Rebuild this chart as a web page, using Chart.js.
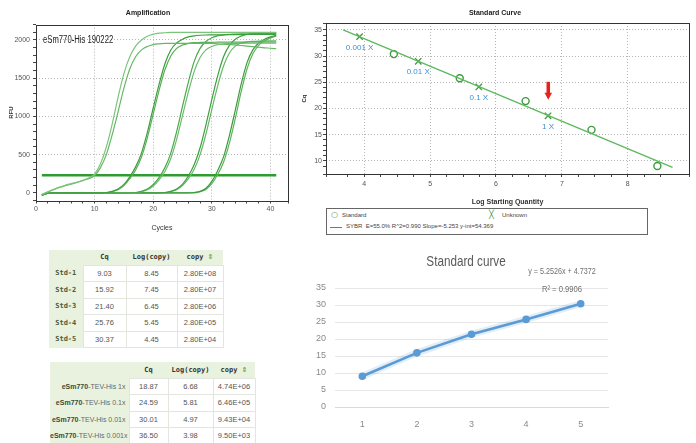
<!DOCTYPE html>
<html>
<head>
<meta charset="utf-8">
<script src="https://cdn.jsdelivr.net/npm/chart.js@4.4.1/dist/chart.umd.min.js"></script>
<style>
  html, body { margin: 0; padding: 0; background: #fff; }
  body { width: 696px; height: 443px; position: relative; overflow: hidden; font-family: "Liberation Sans", Arial, sans-serif; }
  canvas { position: absolute; }
  #ampChart { left: 0; top: 0; }
  #stdChart { left: 292px; top: 0; }
  #excelChart { left: 300px; top: 245px; }

  /* 표준곡선 범례 박스 */
  #stdLegend { position: absolute; left: 326px; top: 208px; width: 320px; height: 25px; border: 1px solid #666;
               font-family: "Liberation Sans", sans-serif; font-size: 6px; color: #444; }
  #stdLegend span { position: absolute; white-space: nowrap; }
  #stdLegend .mk { color: #3d9a3d; font-family: "DejaVu Sans", sans-serif; font-size: 8px; }
  #stdLegend .ln { position: absolute; left: 3px; top: 18px; width: 12px; height: 0; border-top: 1px solid #3d9a3d; }

  /* 결과 표 */
  table.qtab { position: absolute; border-collapse: collapse; table-layout: fixed; background: #fff;
               font-family: "Liberation Sans", sans-serif; font-size: 7.5px; color: #555; }
  table.qtab th, table.qtab td { padding: 0; text-align: center; overflow: hidden; white-space: nowrap; }
  table.qtab thead th { background: #e9f2de; color: #333; font-family: "DejaVu Sans Mono", monospace; font-weight: bold; font-size: 7px; }
  table.qtab tbody th { background: #e9f2de; color: #4c5a40; font-family: "DejaVu Sans Mono", monospace; font-weight: bold; font-size: 7px; }
  table.qtab tbody td { border: 1px solid #e3e6df; }
  table.qtab .sort { color: #6aa84f; font-family: "DejaVu Sans", sans-serif; font-size: 7px; }
  #stdTable { left: 49px; top: 250px; width: 174px; }
  #stdTable thead tr { height: 15px; }
  #stdTable tbody tr { height: 16.5px; }
  #unkTable { left: 50px; top: 362px; width: 205px; }
  #unkTable thead tr { height: 16px; }
  #unkTable tbody tr { height: 16.5px; }
  #unkTable tbody th { text-align: right; padding-right: 3px; font-family: "Liberation Sans", sans-serif; font-size: 7px; color: #666; font-weight: normal; }
  #unkTable tbody th b { color: #3f4a36; }
</style>
</head>
<body>
<canvas id="ampChart" width="292" height="232"></canvas>
<canvas id="stdChart" width="404" height="206"></canvas>
<div id="stdLegend">
  <span class="mk" style="left:4px; top:1px;">○</span><span style="left:15px; top:3px;">Standard</span>
  <span class="mk" style="left:162px; top:1px;">╳</span><span style="left:175px; top:3px;">Unknown</span>
  <div class="ln"></div><span style="left:19px; top:14px;">SYBR &nbsp;E=55.0% R^2=0.990 Slope=-5.253 y-int=54.369</span>
</div>
<canvas id="excelChart" width="332" height="198"></canvas>

<table id="stdTable" class="qtab">
  <colgroup><col style="width:34px"><col style="width:43px"><col style="width:51px"><col style="width:46px"></colgroup>
  <thead><tr><th></th><th>Cq</th><th>Log(copy)</th><th>copy <span class="sort">⇕</span></th></tr></thead>
  <tbody></tbody>
</table>
<table id="unkTable" class="qtab">
  <colgroup><col style="width:79px"><col style="width:39px"><col style="width:45px"><col style="width:42px"></colgroup>
  <thead><tr><th></th><th>Cq</th><th>Log(copy)</th><th>copy <span class="sort">⇕</span></th></tr></thead>
  <tbody></tbody>
</table>

<script>
// ===== 증폭 곡선 데이터 (사이클별 RFU) =====
const ampCycles = [1, 2, 3, 4, 5, 6, 7, 8, 9, 10, 11, 12, 13, 14, 15, 16, 17, 18, 19, 20,
                   21, 22, 23, 24, 25, 26, 27, 28, 29, 30, 31, 32, 33, 34, 35, 36, 37, 38, 39, 40, 41];
const ampStd1a = [-20, 15, 45, 75, 100, 120, 140, 165, 195, 245,
                  380, 600, 900, 1250, 1560, 1780, 1920, 2000, 2050, 2075,
                  2090, 2095, 2100, 2100, 2100, 2100, 2100, 2100, 2100, 2100,
                  2100, 2100, 2100, 2100, 2100, 2100, 2100, 2100, 2100, 2100, 2100];
const ampStd1b = [-25, 10, 40, 70, 95, 115, 135, 160, 185, 225,
                  330, 500, 760, 1060, 1370, 1620, 1780, 1870, 1915, 1940,
                  1950, 1955, 1955, 1955, 1955, 1955, 1955, 1955, 1955, 1955,
                  1950, 1945, 1940, 1935, 1928, 1920, 1912, 1905, 1898, 1892, 1885];
const ampStd2a = [-30, -5, 0, 0, 0, 0, 0, 0, 0, 0,
                  0, 5, 20, 50, 110, 210, 340, 520, 790, 1110,
                  1420, 1690, 1870, 1960, 2010, 2040, 2055, 2062, 2065, 2066,
                  2067, 2068, 2069, 2070, 2071, 2072, 2072, 2073, 2074, 2074, 2075];
const ampStd2b = [-30, -5, 0, 0, 0, 0, 0, 0, 0, 0,
                  0, 0, 15, 40, 95, 185, 300, 470, 720, 1030,
                  1340, 1610, 1790, 1890, 1935, 1955, 1965, 1968, 1970, 1970,
                  1971, 1971, 1972, 1972, 1973, 1973, 1974, 1974, 1975, 1975, 1975];
const ampStd3a = [-30, -5, 0, 0, 0, 0, 0, 0, 0, 0,
                  0, 0, 0, 0, 0, 0, 5, 20, 50, 110,
                  200, 330, 520, 800, 1130, 1450, 1720, 1890, 1980, 2030,
                  2055, 2068, 2075, 2078, 2080, 2081, 2082, 2083, 2084, 2085, 2085];
const ampStd3b = [-30, -5, 0, 0, 0, 0, 0, 0, 0, 0,
                  0, 0, 0, 0, 0, 0, 0, 15, 40, 90,
                  170, 280, 450, 700, 1010, 1320, 1590, 1770, 1870, 1915,
                  1938, 1948, 1952, 1955, 1956, 1957, 1958, 1958, 1959, 1960, 1960];
const ampStd4a = [-30, -5, 0, 0, 0, 0, 0, 0, 0, 0,
                  0, 0, 0, 0, 0, 0, 0, 0, 0, 0,
                  0, 5, 20, 50, 115, 220, 370, 590, 890, 1220,
                  1530, 1780, 1930, 2010, 2050, 2072, 2083, 2090, 2093, 2095, 2095];
const ampStd4b = [-30, -5, 0, 0, 0, 0, 0, 0, 0, 0,
                  0, 0, 0, 0, 0, 0, 0, 0, 0, 0,
                  0, 0, 15, 40, 95, 185, 310, 500, 770, 1090,
                  1400, 1660, 1830, 1920, 1960, 1975, 1982, 1986, 1988, 1990, 1990];
const ampStd5a = [-30, -5, 0, 0, 0, 0, 0, 0, 0, 0,
                  0, 0, 0, 0, 0, 0, 0, 0, 0, 0,
                  0, 0, 0, 0, 0, 0, 5, 20, 60, 150,
                  290, 470, 750, 1080, 1420, 1700, 1870, 1960, 2010, 2040, 2060];
const ampStd5b = [-30, -5, 0, 0, 0, 0, 0, 0, 0, 0,
                  0, 0, 0, 0, 0, 0, 0, 0, 0, 0,
                  0, 0, 0, 0, 0, 0, 0, 15, 45, 120,
                  240, 400, 650, 970, 1320, 1620, 1820, 1930, 1990, 2025, 2050];
const ampColors = ['#7cc47c', '#66b866', '#3d9e3d', '#5aae5a', '#4aa84a',
                   '#6bbd6b', '#3f9f3f', '#66b866', '#3c9c3c', '#5cb35c'];
const thresholdCycles = [1, 41];
const thresholdRfu = 230;

// ===== 표준곡선 (Log Starting Quantity vs Cq) =====
const stdLog = [4.45, 5.45, 6.45, 7.45, 8.45];
const stdCq = [30.37, 25.76, 21.40, 15.92, 9.03];
const unkLog = [3.93, 4.82, 5.74, 6.79];
const unkCq = [33.7, 29.0, 24.1, 18.6];
const unkLabels = ['0.001 X', '0.01 X', '0.1 X', '1 X'];
const fitLog = [3.68, 8.68];
const fitCq = [35.0, 8.77];

// ===== 엑셀 표준곡선 =====
const excelCats = ['1', '2', '3', '4', '5'];
const excelCq = [9.03, 15.92, 21.40, 25.76, 30.37];
const excelTitle = 'Standard curve';
const excelEquation = 'y = 5.2526x + 4.7372';
const excelR2 = 'R² = 0.9906';

// ===== 표 데이터 =====
const stdNames = ['Std-1', 'Std-2', 'Std-3', 'Std-4', 'Std-5'];
const stdTableCq = ['9.03', '15.92', '21.40', '25.76', '30.37'];
const stdTableLog = ['8.45', '7.45', '6.45', '5.45', '4.45'];
const stdTableCopy = ['2.80E+08', '2.80E+07', '2.80E+06', '2.80E+05', '2.80E+04'];
const unkNames = ['eSm770-TEV-His 1x', 'eSm770-TEV-His 0.1x', 'eSm770-TEV-His 0.01x', 'eSm770-TEV-His 0.001x'];
const unkTableCq = ['18.87', '24.59', '30.01', '36.50'];
const unkTableLog = ['6.68', '5.81', '4.97', '3.98'];
const unkTableCopy = ['4.74E+06', '6.46E+05', '9.43E+04', '9.50E+03'];

const FONT = '"Liberation Sans", Arial, sans-serif';

// 가로로 좁힌 글자 (원본 캡처가 가로로 눌려 있음)
function narrowText(ctx, text, x, y, squeeze) {
    ctx.save();
    ctx.translate(x, y);
    ctx.scale(squeeze, 1);
    ctx.fillText(text, 0, 0);
    ctx.restore();
}

// 플롯 영역 테두리
const framePlugin = {
    id: 'frame',
    afterDraw(chart, args, opts) {
        if (!opts.color) return;
        const { ctx, chartArea: a } = chart;
        ctx.save();
        ctx.strokeStyle = opts.color;
        ctx.lineWidth = 1;
        ctx.strokeRect(Math.round(a.left) + 0.5, Math.round(a.top) + 0.5, Math.round(a.width), Math.round(a.height));
        ctx.restore();
    }
};

// 증폭 차트 시료명
const ampNotePlugin = {
    id: 'ampNote',
    afterDraw(chart) {
        const { ctx, chartArea: a } = chart;
        ctx.save();
        ctx.font = '10px ' + FONT;
        ctx.fillStyle = '#222';
        ctx.textBaseline = 'middle';
        narrowText(ctx, 'eSm770-His 190222', a.left + 7, a.top + 16, 0.77);
        ctx.restore();
    }
};

// Unknown 라벨과 빨간 화살표
const unknownLabelPlugin = {
    id: 'unknownLabels',
    afterDatasetsDraw(chart) {
        const meta = chart.getDatasetMeta(2);
        const ctx = chart.ctx;
        ctx.save();
        ctx.font = '8px ' + FONT;
        ctx.fillStyle = '#3b8fd4';
        ctx.textAlign = 'center';
        ctx.textBaseline = 'middle';
        meta.data.forEach((pt, i) => ctx.fillText(unkLabels[i], pt.x, pt.y + 11));
        const p = meta.data[meta.data.length - 1];
        ctx.fillStyle = '#e8231b';
        ctx.fillRect(p.x - 1.5, p.y - 34, 3.5, 12);
        ctx.beginPath();
        ctx.moveTo(p.x - 3.5, p.y - 23);
        ctx.lineTo(p.x + 4, p.y - 23);
        ctx.lineTo(p.x + 0.25, p.y - 16);
        ctx.closePath();
        ctx.fill();
        ctx.restore();
    }
};

// 엑셀 제목과 추세선 수식
const excelTextPlugin = {
    id: 'excelText',
    afterDraw(chart) {
        const { ctx, chartArea: a, width } = chart;
        ctx.save();
        ctx.textAlign = 'center';
        ctx.textBaseline = 'middle';
        ctx.fillStyle = '#595959';
        ctx.font = '15px ' + FONT;
        narrowText(ctx, excelTitle, width / 2, a.top - 26, 0.78);
        ctx.font = '9px ' + FONT;
        ctx.fillStyle = '#6f6f6f';
        narrowText(ctx, excelEquation, a.right - 46, a.top - 16, 0.8);
        narrowText(ctx, excelR2, a.right - 46, a.top + 2, 0.85);
        ctx.restore();
    }
};

function toPoints(xs, ys) {
    return xs.map((x, i) => ({ x: x, y: ys[i] }));
}

// 증폭 곡선 차트
function drawAmplification() {
    const curves = [ampStd1a, ampStd1b, ampStd2a, ampStd2b, ampStd3a, ampStd3b, ampStd4a, ampStd4b, ampStd5a, ampStd5b];
    const datasets = curves.map((c, i) => ({
        data: toPoints(ampCycles, c),
        borderColor: ampColors[i],
        borderWidth: 1.2,
        pointRadius: 0,
        cubicInterpolationMode: 'monotone'
    }));
    datasets.push({
        data: thresholdCycles.map(x => ({ x: x, y: thresholdRfu })),
        borderColor: '#2f9c2f',
        borderWidth: 2.5,
        pointRadius: 0
    });

    new Chart(document.getElementById('ampChart'), {
        type: 'line',
        data: { datasets: datasets },
        options: {
            responsive: false,
            animation: false,
            layout: { padding: { left: 8, right: 4, top: 0, bottom: 0 }, autoPadding: false },
            plugins: {
                legend: { display: false },
                tooltip: { enabled: false },
                title: { display: true, text: 'Amplification', color: '#222', font: { family: FONT, size: 7, weight: 'bold' }, padding: { top: 8.5, bottom: 7.8 } },
                frame: { color: '#333' }
            },
            scales: {
                x: {
                    type: 'linear', min: 0, max: 43,
                    afterFit: s => { s.height = 31.5; },
                    ticks: { stepSize: 2, autoSkip: false, maxRotation: 0, padding: 1, color: '#555', font: { family: FONT, size: 7 },
                             callback: v => (v % 10 === 0 ? v : '') },
                    grid: { color: c => (c.tick && c.tick.value % 10 === 0 && c.tick.value > 0 ? '#b5b5b5' : 'rgba(0,0,0,0)'),
                            tickColor: '#444', tickLength: 3 },
                    border: { display: false, dash: [1, 2] },
                    title: { display: true, text: 'Cycles', color: '#333', font: { family: FONT, size: 7 }, padding: 0 }
                },
                y: {
                    min: -100, max: 2200,
                    afterFit: s => { s.width = 28; },
                    ticks: { stepSize: 100, autoSkip: false, padding: 3, color: '#555', font: { family: FONT, size: 7 },
                             callback: v => (v % 500 === 0 ? v : '') },
                    grid: { color: c => (c.tick && c.tick.value % 500 === 0 && c.tick.value > 0 ? '#b5b5b5' : 'rgba(0,0,0,0)'),
                            tickColor: '#444', tickLength: 3 },
                    border: { display: false, dash: [1, 2] },
                    title: { display: true, text: 'RFU', color: '#333', font: { family: FONT, size: 6, weight: 'bold' }, padding: 0 }
                }
            }
        },
        plugins: [framePlugin, ampNotePlugin]
    });
}

// 표준곡선 산점도
function drawStandardCurve() {
    new Chart(document.getElementById('stdChart'), {
        type: 'scatter',
        data: {
            datasets: [
                { type: 'line', data: toPoints(fitLog, fitCq), borderColor: '#5cb85c', borderWidth: 1.3, pointRadius: 0 },
                { data: toPoints(stdLog, stdCq), pointStyle: 'circle', pointRadius: 3.5, borderWidth: 1.4,
                  borderColor: '#3d9a3d', backgroundColor: 'rgba(0,0,0,0)' },
                { data: toPoints(unkLog, unkCq), pointStyle: 'crossRot', pointRadius: 4.5, borderWidth: 1.3,
                  borderColor: '#3d9a3d', backgroundColor: '#3d9a3d' }
            ]
        },
        options: {
            responsive: false,
            animation: false,
            layout: { padding: { left: 9, right: 7, top: 0, bottom: 0 }, autoPadding: false },
            plugins: {
                legend: { display: false },
                tooltip: { enabled: false },
                title: { display: true, text: 'Standard Curve', color: '#222', font: { family: FONT, size: 7, weight: 'bold' }, padding: { top: 8.5, bottom: 6.1 } },
                frame: { color: '#333' }
            },
            scales: {
                x: {
                    type: 'linear', min: 3.42, max: 8.93,
                    afterFit: s => { s.height = 32; },
                    ticks: { stepSize: 0.25, autoSkip: false, maxRotation: 0, padding: 3, color: '#555', font: { family: FONT, size: 7 },
                             callback: v => (Math.abs(v - Math.round(v)) < 1e-6 ? Math.round(v) : '') },
                    grid: { color: c => (c.tick && Math.abs(c.tick.value - Math.round(c.tick.value)) < 1e-6 ? '#b5b5b5' : 'rgba(0,0,0,0)'),
                            tickColor: '#444', tickLength: 3 },
                    border: { display: false, dash: [1, 2] },
                    title: { display: true, text: 'Log Starting Quantity', color: '#333', font: { family: FONT, size: 7, weight: 'bold' }, padding: 0 }
                },
                y: {
                    min: 7.5, max: 36.3,
                    afterFit: s => { s.width = 25; },
                    ticks: { stepSize: 1, autoSkip: false, padding: 1, color: '#555', font: { family: FONT, size: 7 },
                             callback: v => (v % 5 === 0 ? v : '') },
                    grid: { color: c => (c.tick && c.tick.value % 5 === 0 ? '#b5b5b5' : 'rgba(0,0,0,0)'),
                            tickColor: '#444', tickLength: 3 },
                    border: { display: false, dash: [1, 2] },
                    title: { display: true, text: 'Cq', color: '#333', font: { family: FONT, size: 6, weight: 'bold' }, padding: 0 }
                }
            }
        },
        plugins: [framePlugin, unknownLabelPlugin]
    });
}

// 엑셀 스타일 선 그래프
function drawExcelChart() {
    new Chart(document.getElementById('excelChart'), {
        type: 'line',
        data: {
            labels: excelCats,
            datasets: [
                { data: excelCq, borderColor: '#5b9bd5', borderWidth: 2.6, pointRadius: 2.5,
                  pointBackgroundColor: '#5b9bd5', pointBorderColor: '#5b9bd5', tension: 0 },
                { data: excelCq, borderColor: 'rgba(91,155,213,0.18)', borderWidth: 7, pointRadius: 0, tension: 0 }
            ]
        },
        options: {
            responsive: false,
            animation: false,
            layout: { padding: { left: 0, right: 24, top: 43, bottom: 0 }, autoPadding: false },
            plugins: {
                legend: { display: false },
                tooltip: { enabled: false },
                title: { display: false }
            },
            scales: {
                x: {
                    offset: true,
                    afterFit: s => { s.height = 36; },
                    grid: { display: false },
                    border: { color: '#d9d9d9' },
                    ticks: { color: '#8a8a8a', padding: 4, font: { family: FONT, size: 9 } }
                },
                y: {
                    min: 0, max: 35,
                    afterFit: s => { s.width = 35; },
                    ticks: { stepSize: 5, color: '#8a8a8a', padding: 9, font: { family: FONT, size: 9 } },
                    grid: { color: '#e6e6e6', drawTicks: false },
                    border: { display: false }
                }
            }
        },
        plugins: [excelTextPlugin]
    });
}

// 결과 표 채우기
function fillTable(id, names, cqs, logs, copies, boldPrefix) {
    const body = document.querySelector('#' + id + ' tbody');
    body.innerHTML = names.map((n, i) => {
        let label = n;
        if (boldPrefix) {
            const k = n.indexOf('-');
            label = '<b>' + n.slice(0, k) + '</b>' + n.slice(k);
        }
        return `<tr><th>${label}</th><td>${cqs[i]}</td><td>${logs[i]}</td><td>${copies[i]}</td></tr>`;
    }).join('');
}

document.addEventListener('DOMContentLoaded', function() {
    drawAmplification();
    drawStandardCurve();
    drawExcelChart();
    fillTable('stdTable', stdNames, stdTableCq, stdTableLog, stdTableCopy, false);
    fillTable('unkTable', unkNames, unkTableCq, unkTableLog, unkTableCopy, true);
});
</script>
</body>
</html>
